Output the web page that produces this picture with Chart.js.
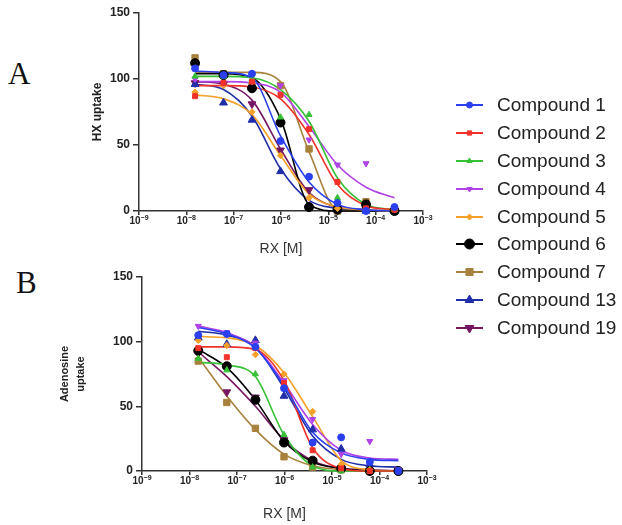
<!DOCTYPE html>
<html>
<head>
<meta charset="utf-8">
<script src="https://cdn.jsdelivr.net/npm/chart.js@4.4.1/dist/chart.umd.min.js"></script>
<style>
  html, body { margin: 0; padding: 0; background: #fff; overflow: hidden; }
  #wrap { position: relative; width: 622px; height: 525px; }
  .panel { position: absolute; left: 0; }
  .tag { position: absolute; font-family: 'Liberation Serif', 'Times New Roman', serif; font-size: 31px; line-height: 1; color: #111; }
  #legend { position: absolute; left: 455px; top: 91px; font-family: 'Liberation Sans', Arial, sans-serif; font-size: 19px; color: #222; }
  .row { display: flex; align-items: center; height: 27.9px; }
</style>
</head>
<body>
<div id="wrap">
  <div class="tag" style="left:8px; top:58px;">A</div>
  <div class="tag" style="left:16px; top:267px;">B</div>
  <canvas id="chartA" class="panel" width="440" height="262" style="top:0px;"></canvas>
  <canvas id="chartB" class="panel" width="440" height="265" style="top:262px;"></canvas>
  <div id="legend"></div>
</div>
<script>
// concentrations (M), 4-fold dilutions
const conc = [1.53e-8, 6.1e-8, 2.44e-7, 9.77e-7, 3.91e-6, 1.56e-5, 6.25e-5, 2.5e-4];
const compounds = ['Compound 1', 'Compound 2', 'Compound 3', 'Compound 4', 'Compound 5',
                   'Compound 6', 'Compound 7', 'Compound 13', 'Compound 19'];
// x tick labels: 10 raised to these powers
const xTickExponents = ['-9', '-8', '-7', '-6', '-5', '-4', '-3'];
const yTicks = [0, 50, 100, 150];

// A: HX uptake, measured points
const hxPoints = [
  [108, 103, 104, 53, 26, 6, 0, 3],
  [87, 97, 98, 88, 62, 22, 2, 1],
  [102, 102, 100, 71, 73, 10, 1, 1],
  [100, 97, 98, 95, 54, 35, 36, 2],
  [90, 95, 75, 42, 10, 2, 1, 1],
  [112, 103, 93, 67, 3, 1, 5, 0],
  [116, 104, 95, 95, 47, 0, 7, 1],
  [96, 82, 69, 30, 3, 1, 0, 0],
  [97, 96, 81, 46, 16, 2, 1, 0]
];
// A: fitted curves read at the same concentrations
const hxFit = [
  [106, 105, 101, 57, 22, 5, 1, 0],
  [95, 95, 94, 85, 58, 20, 4, 1],
  [102, 102, 101, 92, 68, 25, 5, 1],
  [98, 98, 97, 90, 64, 35, 18, 10],
  [88, 85, 73, 42, 13, 3, 1, 0],
  [104, 104, 101, 70, 5, 0, 0, 0],
  [105, 105, 105, 98, 45, 1, 0, 0],
  [96, 92, 72, 32, 8, 2, 0, 0],
  [98, 96, 84, 47, 14, 3, 1, 0]
];

// B: adenosine uptake, measured points
const adoPoints = [
  [105, 106, 96, 64, 22, 26, 7, 0],
  [95, 88, 95, 68, 16, 2, 0, 0],
  [87, 78, 75, 28, 3, 0, 0, 0],
  [112, 107, 99, 70, 40, 13, 23, 1],
  [101, 97, 90, 75, 46, 5, 1, 0],
  [93, 81, 55, 22, 8, 2, 0, 0],
  [85, 53, 33, 11, 3, 1, 0, 0],
  [103, 98, 101, 58, 32, 17, 5, 0],
  [91, 61, 57, 24, 8, 2, 0, 0]
];
// B: fitted curves
const adoFit = [
  [111, 106, 95, 66, 30, 14, 9, 8],
  [96, 96, 94, 70, 18, 2, 0, 0],
  [84, 82, 73, 28, 4, 0, 0, 0],
  [112, 107, 96, 68, 36, 16, 10, 9],
  [104, 103, 97, 76, 42, 8, 1, 0],
  [94, 80, 55, 23, 7, 2, 0, 0],
  [88, 58, 32, 13, 4, 1, 0, 0],
  [108, 105, 96, 64, 27, 9, 4, 3],
  [92, 73, 50, 24, 8, 2, 1, 0]
];

// marker look per compound
const styles = [
  { color: '#2a40f0', shape: 'circle', rot: 0, r: 3.5 },
  { color: '#f0322a', shape: 'rect', rot: 0, r: 3.5 },
  { color: '#35c035', shape: 'triangle', rot: 0, r: 3.5 },
  { color: '#b040e8', shape: 'triangle', rot: 180, r: 3.5 },
  { color: '#f5a028', shape: 'rectRot', rot: 0, r: 3.2 },
  { color: '#000000', shape: 'circle', rot: 0, r: 4.5 },
  { color: '#a8823c', shape: 'rect', rot: 0, r: 4.5 },
  { color: '#1f2ea8', shape: 'triangle', rot: 0, r: 4.5 },
  { color: '#761663', shape: 'triangle', rot: 180, r: 4.5 }
];

const sans = "'Liberation Sans', Arial, sans-serif";

// draws "10" with a raised exponent under each x tick
const powerTicks = {
  id: 'powerTicks',
  afterDraw(chart) {
    const xs = chart.scales.x;
    const ctx = chart.ctx;
    const y = xs.top + 13;
    ctx.save();
    ctx.fillStyle = '#222';
    ctx.textBaseline = 'alphabetic';
    xs.ticks.forEach((t, i) => {
      const px = xs.getPixelForValue(t.value);
      const exp = xTickExponents[i].replace('-', '\u2212');
      ctx.font = 'bold 10px ' + sans;
      const wBase = ctx.measureText('10').width;
      ctx.font = 'bold 7px ' + sans;
      const wExp = ctx.measureText(exp).width;
      const left = px - (wBase + wExp) / 2;
      ctx.font = 'bold 10px ' + sans;
      ctx.textAlign = 'left';
      ctx.fillText('10', left, y);
      ctx.font = 'bold 7px ' + sans;
      ctx.fillText(exp, left + wBase, y - 4);
    });
    ctx.restore();
  }
};

function buildDatasets(points, fits) {
  const sets = [];
  compounds.forEach((name, i) => {
    const st = styles[i];
    sets.push({
      label: name,
      data: conc.map((x, k) => ({ x: x, y: points[i][k] })),
      showLine: false,
      pointStyle: st.shape,
      pointRotation: st.rot,
      pointRadius: st.r,
      pointBackgroundColor: st.color,
      pointBorderColor: st.color,
      pointBorderWidth: 1,
      order: 0,
      clip: false
    });
    sets.push({
      label: name + ' fit',
      data: conc.map((x, k) => ({ x: x, y: fits[i][k] })),
      showLine: true,
      pointRadius: 0,
      pointHoverRadius: 0,
      borderColor: st.color,
      borderWidth: 1.6,
      cubicInterpolationMode: 'monotone',
      fill: false,
      order: 1,
      clip: false
    });
  });
  return sets;
}

function makePanel(canvasId, points, fits, o) {
  return new Chart(document.getElementById(canvasId), {
    type: 'scatter',
    data: { datasets: buildDatasets(points, fits) },
    plugins: [powerTicks],
    options: {
      responsive: false,
      animation: false,
      devicePixelRatio: 1,
      events: [],
      layout: { padding: o.padding },
      plugins: { legend: { display: false }, tooltip: { enabled: false } },
      scales: {
        x: {
          type: 'logarithmic',
          min: 1e-9,
          max: 1e-3,
          afterBuildTicks: axis => {
            axis.ticks = xTickExponents.map(e => ({ value: Math.pow(10, Number(e)) }));
          },
          afterFit: axis => { axis.height = o.xHeight; },
          ticks: { display: false },
          grid: { drawOnChartArea: false, tickLength: 4, color: '#333', lineWidth: 1.5 },
          border: { color: '#333', width: 1.5 },
          title: {
            display: true, text: 'RX [M]', color: '#333',
            font: { family: sans, size: 14 }
          }
        },
        y: {
          min: 0,
          max: 150,
          afterBuildTicks: axis => { axis.ticks = yTicks.map(v => ({ value: v })); },
          afterFit: axis => { axis.width = o.yWidth; },
          ticks: {
            padding: 3, color: '#222',
            font: { family: sans, size: 12, weight: 'bold' }
          },
          grid: { drawOnChartArea: false, tickLength: 6, color: '#333', lineWidth: 1.5 },
          border: { color: '#333', width: 1.5 },
          title: {
            display: true, text: o.yTitle, color: '#222',
            font: { family: sans, size: o.yTitleSize, weight: 'bold', lineHeight: o.yTitleLH }
          }
        }
      }
    }
  });
}

makePanel('chartA', hxPoints, hxFit, {
  padding: { left: 86, top: 13, right: 17, bottom: 0 },
  xHeight: 51, yWidth: 53,
  yTitle: 'HX uptake', yTitleSize: 12, yTitleLH: 1.2
});

makePanel('chartB', adoPoints, adoFit, {
  padding: { left: 53, top: 15, right: 13, bottom: 0 },
  xHeight: 56, yWidth: 89,
  yTitle: ['Adenosine', 'uptake'], yTitleSize: 11, yTitleLH: 1.45
});

// legend shared by both panels
const legend = document.getElementById('legend');
compounds.forEach((name, i) => {
  const st = styles[i];
  const row = document.createElement('div');
  row.className = 'row';
  const c = document.createElement('canvas');
  c.width = 42; c.height = 28;
  const ctx = c.getContext('2d');
  ctx.strokeStyle = st.color;
  ctx.fillStyle = st.color;
  ctx.lineWidth = 2;
  ctx.beginPath();
  ctx.moveTo(1, 14); ctx.lineTo(28, 14);
  ctx.stroke();
  const r = i < 5 ? 3 : 5;
  if (Chart.helpers && Chart.helpers.drawPoint) {
    ctx.lineWidth = 1;
    Chart.helpers.drawPoint(ctx, { pointStyle: st.shape, rotation: st.rot, radius: r, borderWidth: 1 }, 14.5, 14);
  } else {
    ctx.beginPath(); ctx.arc(14.5, 14, r, 0, Math.PI * 2); ctx.fill();
  }
  const span = document.createElement('span');
  span.textContent = name;
  row.appendChild(c);
  row.appendChild(span);
  legend.appendChild(row);
});
</script>
</body>
</html>
